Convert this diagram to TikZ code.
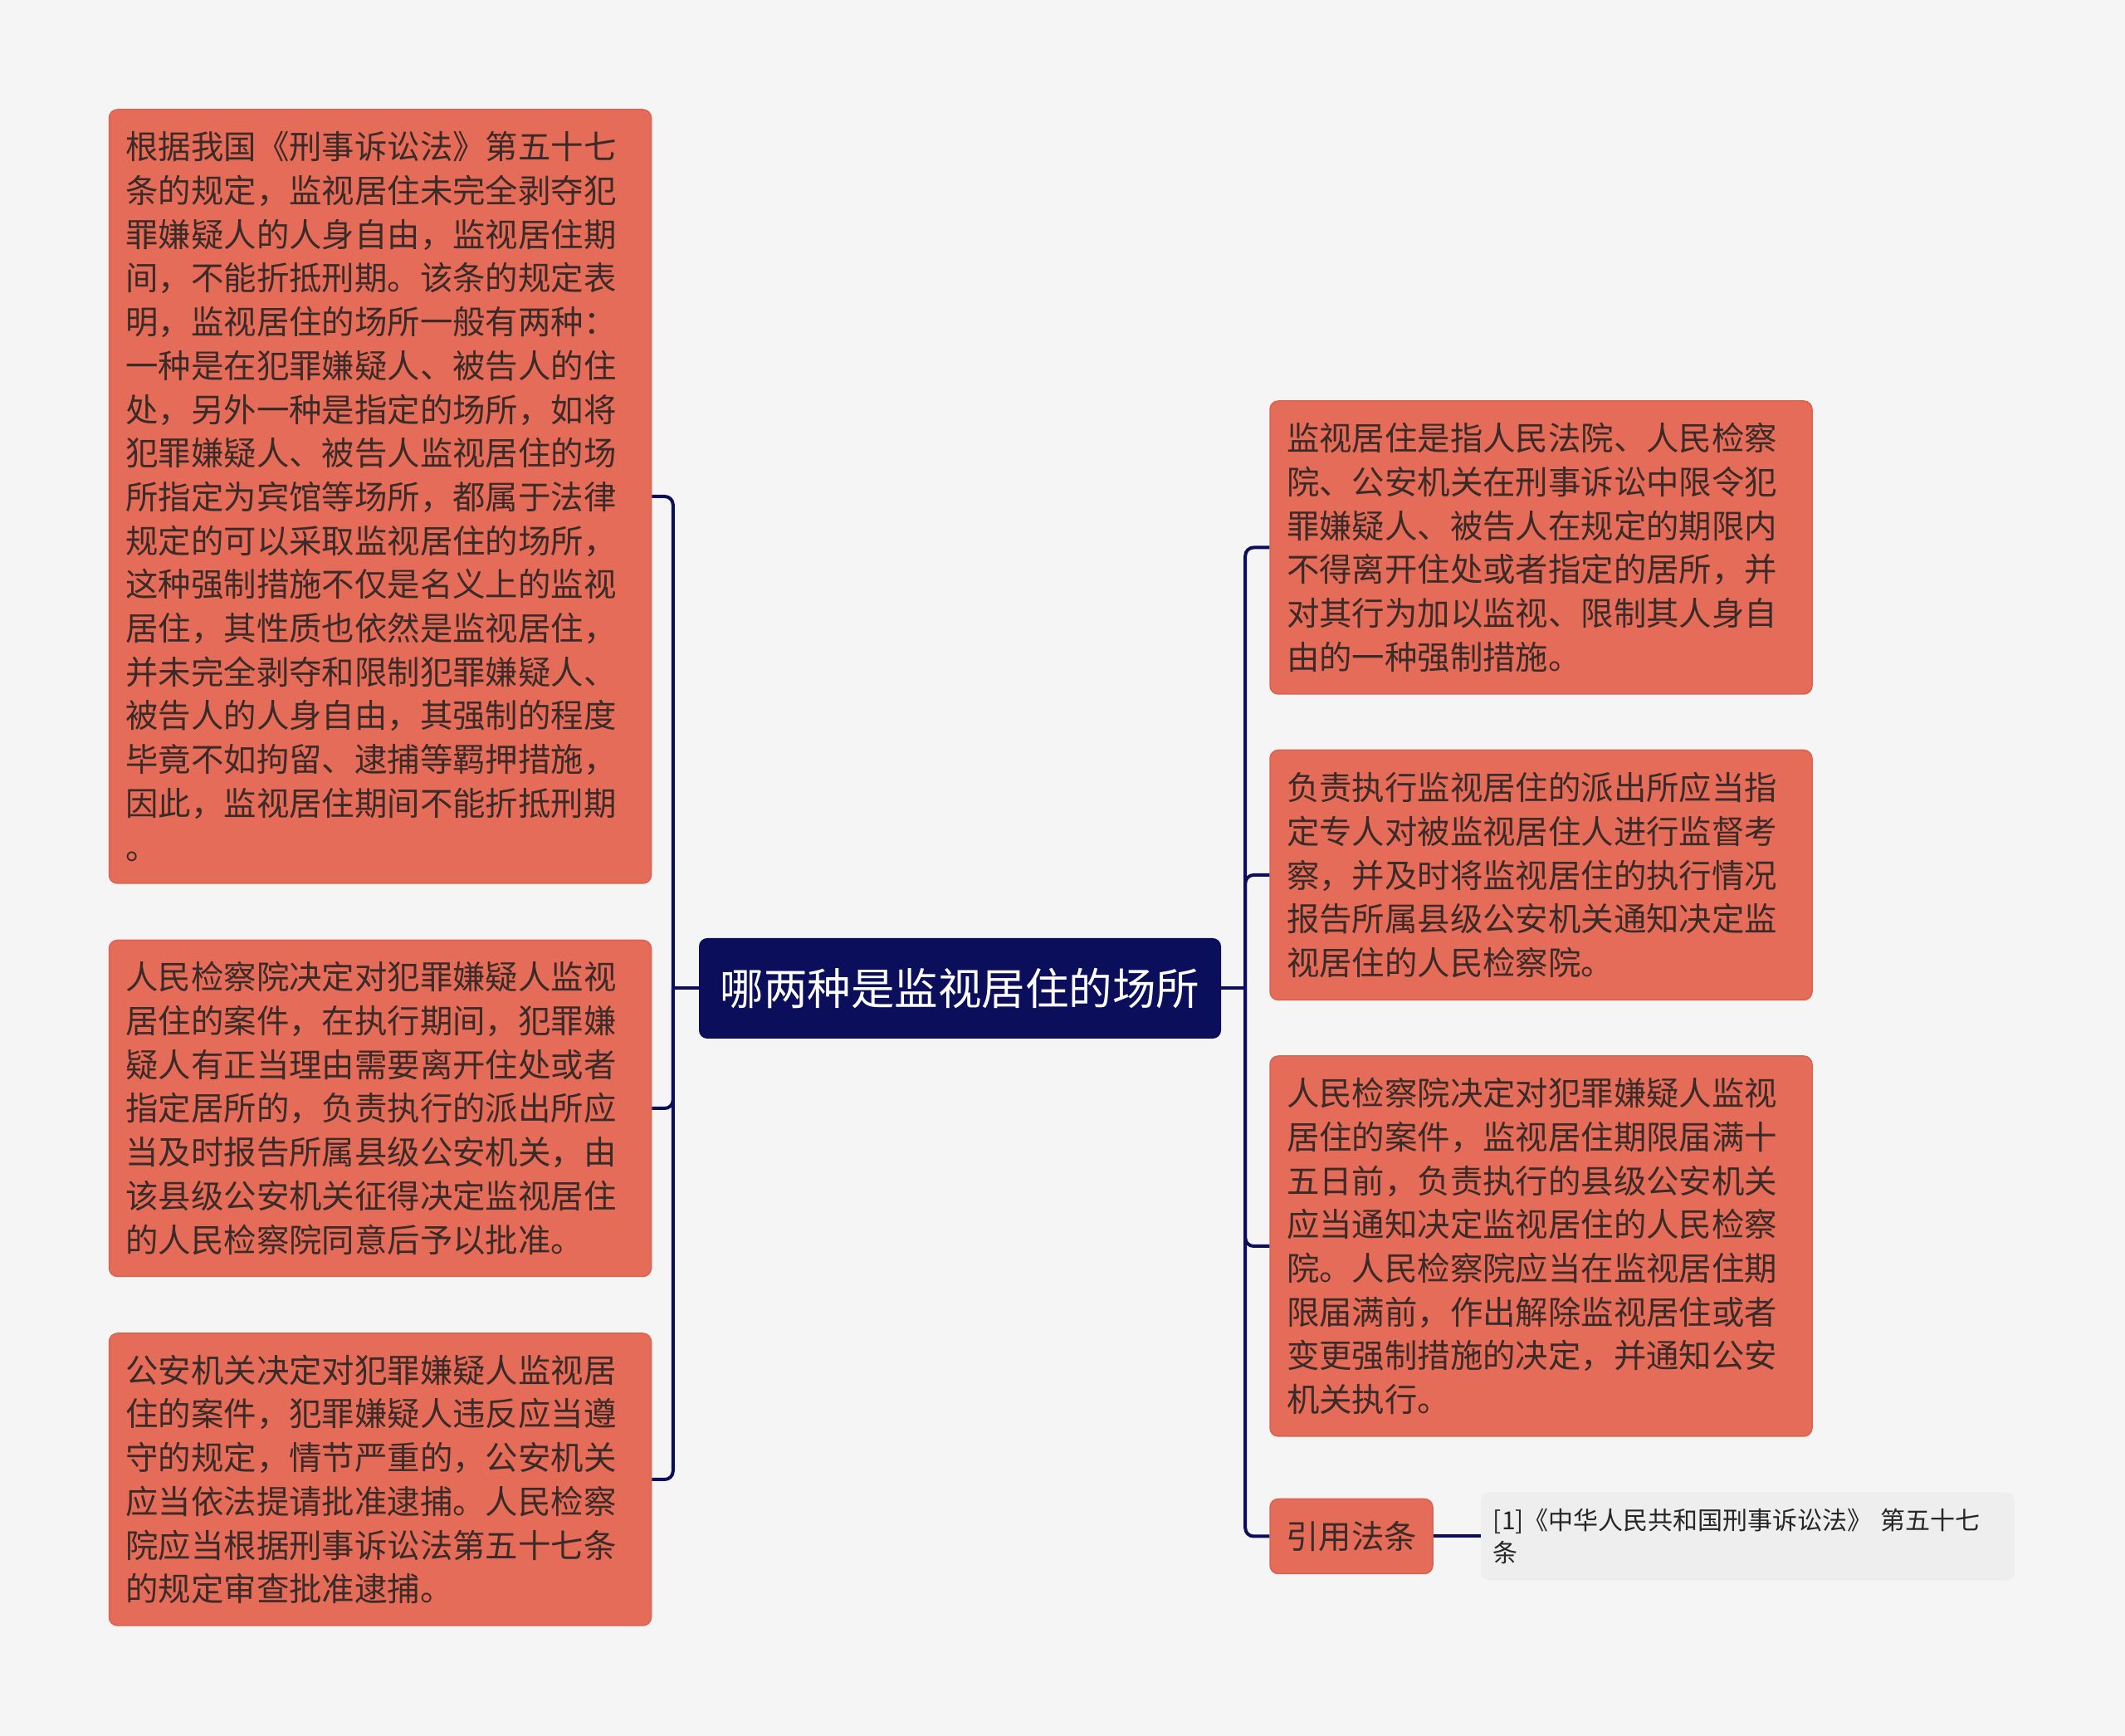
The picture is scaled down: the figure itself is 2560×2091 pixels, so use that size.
\documentclass[tikz,border=0pt]{standalone}
\usepackage{fontspec}
\newfontfamily\cjk{Noto Sans CJK SC}
\usetikzlibrary{positioning}
\definecolor{boxred}{HTML}{E46C58}
\definecolor{boxedge}{HTML}{DA624F}
\definecolor{navy}{HTML}{0B0F5B}
\definecolor{inktext}{HTML}{3A2A28}
\definecolor{bggray}{HTML}{F5F5F5}
\definecolor{refgray}{HTML}{EEEEEE}
\tikzstyle{detail} = [rectangle, rounded corners=10pt, text width=613pt, inner xsep=20pt, inner ysep=0pt, align=left, draw=boxedge, line width=1.5pt, fill=boxred, text=inktext, font=\cjk\fontsize{39.4}{52.7}\selectfont]
\tikzstyle{topic} = [rectangle, rounded corners=10pt, minimum width=629pt, minimum height=121pt, fill=navy, text=white, font=\cjk\fontsize{52.5}{60}\selectfont]
\tikzstyle{tag} = [rectangle, rounded corners=10pt, minimum width=196pt, minimum height=90pt, inner sep=0pt, draw=boxedge, line width=1.5pt, fill=boxred, text=inktext, font=\cjk\fontsize{39.4}{52.7}\selectfont]
\tikzstyle{refnote} = [rectangle, rounded corners=10pt, text width=613pt, inner xsep=15pt, inner ysep=0pt, minimum height=106pt, align=left, fill=refgray, text=black!85, font=\cjk\fontsize{30}{39}\selectfont]
\tikzstyle{link} = [draw=navy, line width=4pt]

\begin{document}
\begin{tikzpicture}[x=1pt, y=1pt]
\fill[bggray] (0,0) rectangle (2560,2091);
\useasboundingbox (0,0) rectangle (2560,2091);

\node (topic) [topic] at (1156.5,900.5) {哪两种是监视居住的场所};

% left side
\node (basis) [detail, minimum height=932pt] at (458,1493) {根据我国《刑事诉讼法》第五十七\\条的规定，监视居住未完全剥夺犯\\罪嫌疑人的人身自由，监视居住期\\间，不能折抵刑期。该条的规定表\\明，监视居住的场所一般有两种：\\一种是在犯罪嫌疑人、被告人的住\\处，另外一种是指定的场所，如将\\犯罪嫌疑人、被告人监视居住的场\\所指定为宾馆等场所，都属于法律\\规定的可以采取监视居住的场所，\\这种强制措施不仅是名义上的监视\\居住，其性质也依然是监视居住，\\并未完全剥夺和限制犯罪嫌疑人、\\被告人的人身自由，其强制的程度\\毕竟不如拘留、逮捕等羁押措施，\\因此，监视居住期间不能折抵刑期\\。};
\node (leave) [detail, minimum height=405pt, below=67pt of basis] {人民检察院决定对犯罪嫌疑人监视\\居住的案件，在执行期间，犯罪嫌\\疑人有正当理由需要离开住处或者\\指定居所的，负责执行的派出所应\\当及时报告所属县级公安机关，由\\该县级公安机关征得决定监视居住\\的人民检察院同意后予以批准。};
\node (arrest) [detail, minimum height=352pt, below=67pt of leave] {公安机关决定对犯罪嫌疑人监视居\\住的案件，犯罪嫌疑人违反应当遵\\守的规定，情节严重的，公安机关\\应当依法提请批准逮捕。人民检察\\院应当根据刑事诉讼法第五十七条\\的规定审查批准逮捕。};

% right side
\node (meaning) [detail, minimum height=353pt] at (1856.5,1431.5) {监视居住是指人民法院、人民检察\\院、公安机关在刑事诉讼中限令犯\\罪嫌疑人、被告人在规定的期限内\\不得离开住处或者指定的居所，并\\对其行为加以监视、限制其人身自\\由的一种强制措施。};
\node (duty) [detail, minimum height=301pt, below=66pt of meaning] {负责执行监视居住的派出所应当指\\定专人对被监视居住人进行监督考\\察，并及时将监视居住的执行情况\\报告所属县级公安机关通知决定监\\视居住的人民检察院。};
\node (expiry) [detail, minimum height=458pt, below=66pt of duty] {人民检察院决定对犯罪嫌疑人监视\\居住的案件，监视居住期限届满十\\五日前，负责执行的县级公安机关\\应当通知决定监视居住的人民检察\\院。人民检察院应当在监视居住期\\限届满前，作出解除监视居住或者\\变更强制措施的决定，并通知公安\\机关执行。};
\node (cite) [tag, below=74pt of expiry.south west, anchor=north west] {引用法条};
\node (law) [refnote, right=57pt of cite] {[1]《中华人民共和国刑事诉讼法》 第五十七\\条};

% connectors
\coordinate (lhub) at ([xshift=-31pt]topic.west);
\coordinate (rhub) at ([xshift=29pt]topic.east);
\draw [link] (topic.west) -- (lhub);
\foreach \n in {basis, leave, arrest}
  \draw [link, rounded corners=10pt] (lhub) |- (\n.east);
\draw [link] (topic.east) -- (rhub);
\foreach \n in {meaning, duty, expiry, cite}
  \draw [link, rounded corners=10pt] (rhub) |- (\n.west);
\draw [link] (cite) -- (law);

\end{tikzpicture}
\end{document}
